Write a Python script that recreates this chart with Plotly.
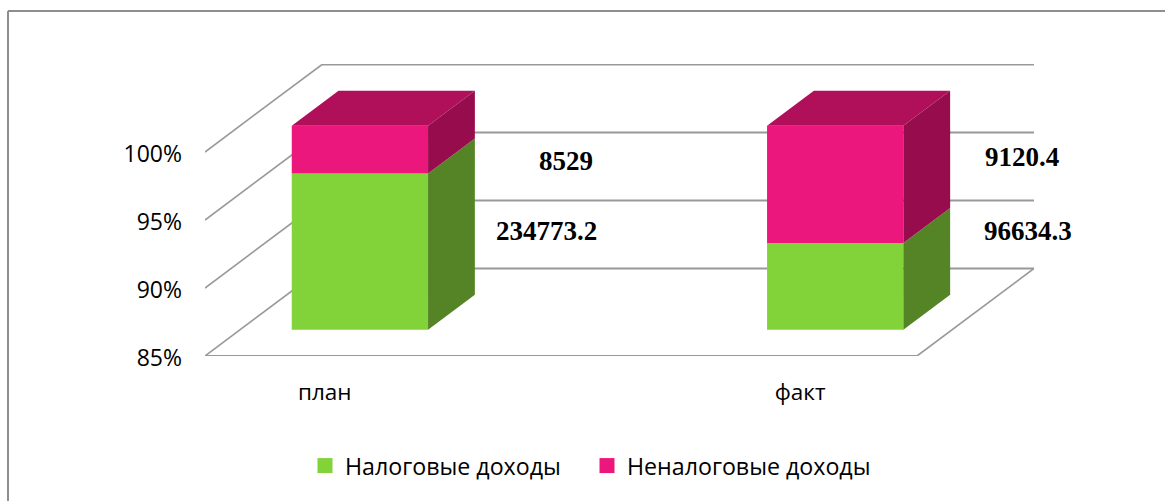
import plotly.graph_objects as go

categories = ["план", "факт"]
tax_income = [234773.2, 96634.3]
nontax_income = [8529, 9120.4]
tax_labels = ["234773.2", "96634.3"]
nontax_labels = ["8529", "9120.4"]
series_names = ["Налоговые доходы", "Неналоговые доходы"]
y_ticks = [85, 90, 95, 100]
y_tick_labels = ["85%", "90%", "95%", "100%"]

W, H = 1165, 501
L, R, T, B = 205, 1034, 64, 356
PX_PER_CAT = 475.3
CAT0_PX = 324.8
PX_PER_PCT = 13.6
DEPTH_X, DEPTH_Y = 117, 87.5
BAR_WIDTH_PX = 136.3
T_FRONT, T_BACK = 0.3, 0.7
GREEN, GREEN_SIDE = "#82D33A", "#548426"
PINK, PINK_TOP, PINK_SIDE = "#EC177C", "#B0105A", "#960C4C"
GRID = "#999999"
SANS = "Open Sans"
SERIF = "Liberation Serif"

dx_unit = DEPTH_X / PX_PER_CAT
dy_unit = DEPTH_Y / PX_PER_PCT
half = BAR_WIDTH_PX / PX_PER_CAT / 2


def data_x(px):
    return (px - CAT0_PX) / PX_PER_CAT


def data_y(py):
    return 85 + (B - py) / PX_PER_PCT


def paper_x(px):
    return (px - L) / (R - L)


def paper_y(py):
    return (B - py) / (B - T)


def project(cat, pct, t):
    return cat + t * dx_unit, pct + t * dy_unit


tax_pct = [100 * a / (a + b) for a, b in zip(tax_income, nontax_income)]
positions = list(range(len(categories)))

fig = go.Figure()

# Front faces
fig.add_trace(go.Bar(
    x=[p + T_FRONT * dx_unit for p in positions],
    y=[v - 85 for v in tax_pct],
    base=85 + T_FRONT * dy_unit,
    width=2 * half, marker=dict(color=GREEN, line=dict(width=0)),
    name=series_names[0], showlegend=False, hoverinfo="skip"))
fig.add_trace(go.Bar(
    x=[p + T_FRONT * dx_unit for p in positions],
    y=[100 - v for v in tax_pct],
    base=[v + T_FRONT * dy_unit for v in tax_pct],
    width=2 * half, marker=dict(color=PINK, line=dict(width=0)),
    name=series_names[1], showlegend=False, hoverinfo="skip"))


def face(points, color):
    fig.add_trace(go.Scatter(
        x=[q[0] for q in points] + [points[0][0]],
        y=[q[1] for q in points] + [points[0][1]],
        mode="lines", fill="toself", fillcolor=color,
        line=dict(width=0, color=color), showlegend=False, hoverinfo="skip"))


for p, share in zip(positions, tax_pct):
    right = p + half
    left = p - half
    # right side, lower (green) part
    face([project(right, 85, T_FRONT), project(right, share, T_FRONT),
          project(right, share, T_BACK), project(right, 85, T_BACK)], GREEN_SIDE)
    # right side, upper (pink) part
    face([project(right, share, T_FRONT), project(right, 100, T_FRONT),
          project(right, 100, T_BACK), project(right, share, T_BACK)], PINK_SIDE)
    # top
    face([project(left, 100, T_FRONT), project(right, 100, T_FRONT),
          project(right, 100, T_BACK), project(left, 100, T_BACK)], PINK_TOP)

# Legend swatches
for i, (name, color) in enumerate(zip(series_names, [GREEN, PINK])):
    fig.add_trace(go.Scatter(
        x=[None], y=[None], mode="markers", name=name,
        marker=dict(symbol="square", size=15, color=color),
        legend="legend" if i == 0 else "legend2", showlegend=True))

# Walls and floor, under the bars
shapes = []
x_left = data_x(L)
x_floor_right = data_x(917)
for tick in y_ticks:
    bx, by = project(x_left, tick, 1)
    shapes.append(dict(type="line", xref="x", yref="y", layer="below",
                       x0=x_left, y0=tick, x1=bx, y1=by,
                       line=dict(color=GRID, width=1.6)))
    shapes.append(dict(type="line", xref="x", yref="y", layer="below",
                       x0=bx, y0=by, x1=x_floor_right + dx_unit, y1=by,
                       line=dict(color=GRID, width=2)))
shapes.append(dict(type="line", xref="x", yref="y", layer="below",
                   x0=x_left, y0=85, x1=x_floor_right, y1=85,
                   line=dict(color=GRID, width=2)))
shapes.append(dict(type="line", xref="x", yref="y", layer="below",
                   x0=x_floor_right, y0=85,
                   x1=x_floor_right + dx_unit, y1=85 + dy_unit,
                   line=dict(color=GRID, width=1.6)))

# Chart frame
border_pts = [(8, H), (8, 11), (W, 11)]
for (a, b), (c, d) in zip(border_pts, border_pts[1:]):
    shapes.append(dict(type="line", xref="paper", yref="paper",
                       x0=paper_x(a), y0=paper_y(b), x1=paper_x(c), y1=paper_y(d),
                       line=dict(color="#8E8E8E", width=2)))

annotations = []
label_pos = [(tax_labels[0], 546, 231), (nontax_labels[0], 565.5, 161),
             (tax_labels[1], 1027.5, 231), (nontax_labels[1], 1022, 157)]
for text, px, py in label_pos:
    annotations.append(dict(x=data_x(px), y=data_y(py), xref="x", yref="y",
                            text=f"<b>{text}</b>", showarrow=False,
                            xanchor="center", yanchor="middle",
                            font=dict(family=SERIF, size=27, color="#000000")))

fig.update_layout(
    width=W, height=H, autosize=False,
    margin=dict(l=L, r=W - R, t=T, b=H - B, pad=0),
    paper_bgcolor="#FFFFFF", plot_bgcolor="#FFFFFF",
    barmode="overlay", shapes=shapes, annotations=annotations,
    font=dict(family=SANS, color="#000000"),
    xaxis=dict(range=[data_x(L), data_x(R)], tickvals=positions, ticktext=categories,
               showgrid=False, zeroline=False, showline=False, ticks="",
               ticklabelstandoff=20, tickfont=dict(family=SANS, size=22.5, color="#000000"),
               fixedrange=True),
    yaxis=dict(range=[85, data_y(T)], tickvals=y_ticks, ticktext=y_tick_labels,
               showgrid=False, zeroline=False, showline=False, ticks="",
               ticklabelstandoff=22, ticklabelshift=2,
               tickfont=dict(family=SANS, size=23, color="#000000"),
               fixedrange=True),
    legend=dict(x=paper_x(305), y=paper_y(466), xanchor="left", yanchor="middle",
                bgcolor="rgba(0,0,0,0)", font=dict(family=SANS, size=23.2, color="#000000")),
    legend2=dict(x=paper_x(587), y=paper_y(466), xanchor="left", yanchor="middle",
                 bgcolor="rgba(0,0,0,0)", font=dict(family=SANS, size=23.2, color="#000000")),
)

fig.write_html("out.html", config=dict(displayModeBar=False),
               post_script="document.body.style.margin='0';")
